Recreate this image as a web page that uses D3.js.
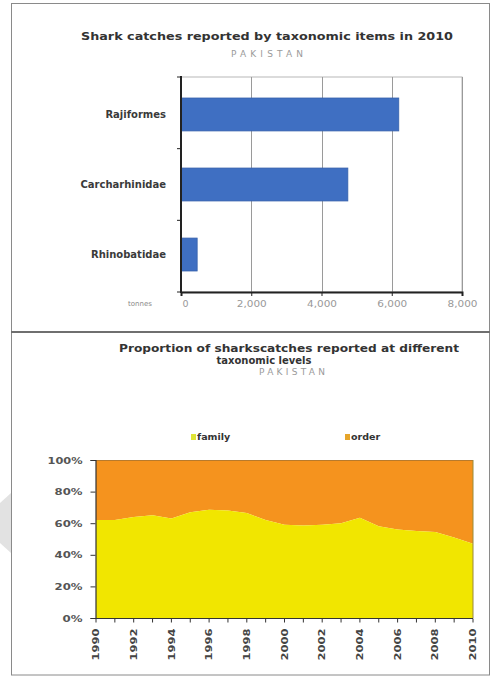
<!DOCTYPE html>
<html>
<head>
<meta charset="utf-8">
<script src="https://cdn.jsdelivr.net/npm/d3@7"></script>
<style>
  html, body { margin: 0; padding: 0; background: #ffffff; }
  svg { display: block; }
</style>
</head>
<body>
<svg id="chart" width="493" height="680"></svg>
<script>
// ---------- DATA ----------
const barCategories = ["Rajiformes", "Carcharhinidae", "Rhinobatidae"];
const barValues = [6200, 4750, 460];
const barTicks = [0, 2000, 4000, 6000, 8000];
const barTickLabels = ["0", "2,000", "4,000", "6,000", "8,000"];

const years = [1990,1991,1992,1993,1994,1995,1996,1997,1998,1999,2000,
               2001,2002,2003,2004,2005,2006,2007,2008,2009,2010];
const familyShare = [62,62,64,65,63,67,68.5,68,66.5,62,59,
                     58.5,59,60,63.5,58,56,55,54.5,51,47];
const orderShare = familyShare.map(v => 100 - v);
const seriesNames = ["family", "order"];
const pctTicks = [0, 20, 40, 60, 80, 100];
const pctTickLabels = ["0%", "20%", "40%", "60%", "80%", "100%"];
const yearLabelYears = [1990,1992,1994,1996,1998,2000,2002,2004,2006,2008,2010];

// ---------- SETUP ----------
const svg = d3.select("#chart");
const FONT = "'DejaVu Sans', Verdana, sans-serif";
const COL_BLUE = "#3f6fc2";
const COL_YELLOW = "#f1e600";
const COL_ORANGE = "#f5931e";

// faint watermark arrow at left edge
svg.append("polygon")
  .attr("points", "11,493 11,553 -22,523")
  .attr("fill", "#e2e2e2");

// panel frames
svg.append("rect").attr("x", 11.5).attr("y", 3.5).attr("width", 478).attr("height", 328)
  .attr("fill", "none").attr("stroke", "#8a8a8a").attr("stroke-width", 1);
svg.append("rect").attr("x", 11.5).attr("y", 332).attr("width", 478).attr("height", 343)
  .attr("fill", "none").attr("stroke", "#8a8a8a").attr("stroke-width", 1);
svg.append("line").attr("x1", 11).attr("x2", 490).attr("y1", 332).attr("y2", 332)
  .attr("stroke", "#6f6f6f").attr("stroke-width", 2);

// ---------- TOP: BAR CHART ----------
const x1 = d3.scaleLinear().domain([0, 8000]).range([181, 462]);
const y1 = d3.scaleBand().domain(barCategories).range([77, 292])
  .paddingInner(0.53).paddingOuter(0.3);

const gTop = svg.append("g");

gTop.append("text").attr("x", 267).attr("y", 40).attr("text-anchor", "middle")
  .attr("font-family", FONT).attr("font-weight", "bold").attr("font-size", 11)
  .attr("fill", "#333").attr("textLength", 372).attr("lengthAdjust", "spacingAndGlyphs")
  .text("Shark catches reported by taxonomic items in 2010");
gTop.append("text").attr("x", 267).attr("y", 57).attr("text-anchor", "middle")
  .attr("font-family", FONT).attr("font-size", 9)
  .attr("fill", "#9a9a9a").attr("textLength", 72).attr("lengthAdjust", "spacing")
  .text("PAKISTAN");

// plot border (light)
gTop.append("rect").attr("x", 181).attr("y", 77).attr("width", 281).attr("height", 215)
  .attr("fill", "none").attr("stroke", "#b8b8b8").attr("stroke-width", 1);

// gridlines
gTop.selectAll(".grid").data(barTicks.slice(1)).enter().append("line")
  .attr("x1", d => Math.round(x1(d)) + 0.5).attr("x2", d => Math.round(x1(d)) + 0.5)
  .attr("y1", 77).attr("y2", 292)
  .attr("stroke", "#9a9a9a").attr("stroke-width", 1);

// bars
gTop.selectAll(".bar").data(barCategories).enter().append("rect")
  .attr("x", x1(0)).attr("y", d => y1(d))
  .attr("width", (d, i) => x1(barValues[i]) - x1(0))
  .attr("height", y1.bandwidth())
  .attr("fill", COL_BLUE).attr("stroke", "#3560aa").attr("stroke-width", 0.8);

// x axis
const xAxisTop = d3.axisBottom(x1).tickValues(barTicks).tickSize(4)
  .tickFormat((d, i) => barTickLabels[i]);
const gxt = gTop.append("g").attr("transform", "translate(0,292)").call(xAxisTop);
gxt.select(".domain").attr("stroke", "#222").attr("stroke-width", 2);
gxt.selectAll(".tick line").attr("stroke", "#222");
gxt.selectAll(".tick text").attr("font-family", FONT).attr("font-size", 9.5)
  .attr("fill", "#999").attr("y", 12).attr("dy", "0.35em")
  .attr("x", (d, i) => i === 0 ? 4 : 0)
  .each(function(d, i) {
    if (barTickLabels[i].length > 1) {
      d3.select(this).attr("textLength", 30).attr("lengthAdjust", "spacingAndGlyphs");
    }
  });

// y axis
gTop.append("line").attr("x1", 181).attr("x2", 181).attr("y1", 76).attr("y2", 293)
  .attr("stroke", "#222").attr("stroke-width", 2);
gTop.selectAll(".ytick").data(d3.range(4)).enter().append("line")
  .attr("x1", 177).attr("x2", 181)
  .attr("y1", i => 77 + i * 215 / 3).attr("y2", i => 77 + i * 215 / 3)
  .attr("stroke", "#222").attr("stroke-width", 1);
gTop.selectAll(".ylab").data(barCategories).enter().append("text")
  .attr("x", 166).attr("y", d => y1(d) + y1.bandwidth() / 2)
  .attr("dy", "0.35em").attr("text-anchor", "end")
  .attr("font-family", FONT).attr("font-weight", "bold").attr("font-size", 10)
  .attr("fill", "#3a3a3a")
  .text(d => d);

gTop.append("text").attr("x", 140).attr("y", 306).attr("text-anchor", "middle")
  .attr("font-family", FONT).attr("font-size", 7).attr("fill", "#8a8a8a")
  .text("tonnes");

// ---------- BOTTOM: STACKED AREA ----------
const x2 = d3.scaleLinear().domain([1990, 2010]).range([96, 473]);
const y2 = d3.scaleLinear().domain([0, 100]).range([618, 460]);
const gBot = svg.append("g");

gBot.append("text").attr("x", 289).attr("y", 352).attr("text-anchor", "middle")
  .attr("font-family", FONT).attr("font-weight", "bold").attr("font-size", 10)
  .attr("fill", "#333").attr("textLength", 340).attr("lengthAdjust", "spacingAndGlyphs")
  .text("Proportion of sharkscatches reported at different");
gBot.append("text").attr("x", 264).attr("y", 364).attr("text-anchor", "middle")
  .attr("font-family", FONT).attr("font-weight", "bold").attr("font-size", 10)
  .attr("fill", "#333")
  .text("taxonomic levels");
gBot.append("text").attr("x", 292).attr("y", 375).attr("text-anchor", "middle")
  .attr("font-family", FONT).attr("font-size", 9)
  .attr("fill", "#9a9a9a").attr("textLength", 66).attr("lengthAdjust", "spacing")
  .text("PAKISTAN");

// legend
const legendX = [191, 345];
const legendCols = ["#dfe436", "#e6a52a"];
const lg = gBot.selectAll(".lg").data(seriesNames).enter().append("g")
  .attr("transform", (d, i) => `translate(${legendX[i]},437)`);
lg.append("rect").attr("x", 0).attr("y", -3).attr("width", 5).attr("height", 6)
  .attr("fill", (d, i) => legendCols[i]);
lg.append("text").attr("x", 6).attr("y", 0).attr("dy", "0.35em")
  .attr("font-family", FONT).attr("font-weight", "bold").attr("font-size", 9.5)
  .attr("fill", "#333").text(d => d);

// areas
const areaFamily = d3.area()
  .x((d, i) => x2(years[i])).y0(y2(0)).y1(d => y2(d));
const areaOrder = d3.area()
  .x((d, i) => x2(years[i])).y0((d, i) => y2(familyShare[i])).y1((d, i) => y2(familyShare[i] + d));

gBot.append("path").datum(orderShare).attr("d", areaOrder).attr("fill", COL_ORANGE);
gBot.append("path").datum(familyShare).attr("d", areaFamily).attr("fill", COL_YELLOW);
gBot.append("line").attr("x1", 96).attr("x2", 473).attr("y1", 460.5).attr("y2", 460.5)
  .attr("stroke", "#b87a2c").attr("stroke-width", 1);
gBot.append("line").attr("x1", 473).attr("x2", 473).attr("y1", 460).attr("y2", 618)
  .attr("stroke", "#9a8a3a").attr("stroke-width", 1);

// y axis
const pctLabelWidth = {2: 20, 3: 28, 4: 35};
const yAxisBot = d3.axisLeft(y2).tickValues(pctTicks).tickSize(5)
  .tickFormat((d, i) => pctTickLabels[i]);
const gyb = gBot.append("g").attr("transform", "translate(95.5,0)").call(yAxisBot);
gyb.select(".domain").attr("stroke", "#333").attr("stroke-width", 1.2);
gyb.selectAll(".tick line").attr("stroke", "#333");
gyb.selectAll(".tick text").attr("font-family", FONT).attr("font-weight", "bold")
  .attr("font-size", 9.5).attr("fill", "#555").attr("x", -13)
  .attr("textLength", (d, i) => pctLabelWidth[pctTickLabels[i].length])
  .attr("lengthAdjust", "spacingAndGlyphs");

// x axis
const gxb = gBot.append("g").attr("transform", "translate(0,618.5)");
gxb.append("line").attr("x1", 95).attr("x2", 473).attr("y1", 0).attr("y2", 0)
  .attr("stroke", "#333").attr("stroke-width", 1.2);
gxb.selectAll(".xt").data(years).enter().append("line")
  .attr("x1", d => x2(d)).attr("x2", d => x2(d)).attr("y1", 0).attr("y2", 4)
  .attr("stroke", "#333");
gxb.selectAll(".xl").data(yearLabelYears).enter().append("text")
  .attr("transform", d => `translate(${x2(d)},10) rotate(-90)`)
  .attr("text-anchor", "end").attr("dy", "0.35em")
  .attr("font-family", FONT).attr("font-weight", "bold").attr("font-size", 9)
  .attr("fill", "#444").attr("textLength", 32).attr("lengthAdjust", "spacingAndGlyphs")
  .text(d => d);
</script>
</body>
</html>
